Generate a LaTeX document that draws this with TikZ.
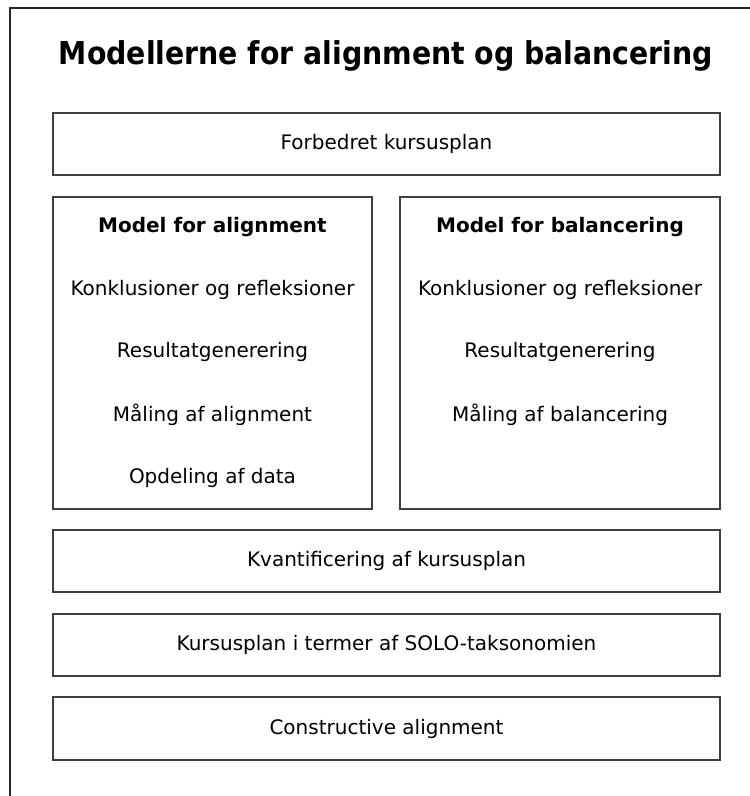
\documentclass[tikz,border=0pt]{standalone}
\usepackage{fontspec}
\setmainfont{DejaVu Sans}
\newfontfamily\titlefont{DejaVu Sans Condensed}
\begin{document}
\begin{tikzpicture}[x=1pt,y=-1pt,
  box/.style={draw=black!75,line width=1.2pt},
  lbl/.style={font=\fontsize{20}{24}\selectfont,anchor=center,inner sep=0pt},
  head/.style={font=\fontsize{20}{24}\selectfont\bfseries,anchor=center,inner sep=0pt}]
\useasboundingbox (0,0) rectangle (750,796);
\draw[line width=1.2pt,black!85] (10,800) -- (10,8) -- (760,8);
\node[font=\fontsize{31.5}{36}\selectfont\titlefont\bfseries,inner sep=0pt] (title) at (386,56) {Modellerne for alignment og balancering};
\draw[box] (53,113) rectangle (720,175) node[midway,lbl] (top) {Forbedret kursusplan};
\draw[box] (53,197) rectangle (372,509);
\draw[box] (400,197) rectangle (720,509);
\node[head] (la) at (212.5,227) {Model for alignment};
\node[lbl] (l1) at (212.5,290) {Konklusioner og refleksioner};
\node[lbl] (l2) at (212.5,352) {Resultatgenerering};
\node[lbl] (l3) at (212.5,415) {Måling af alignment};
\node[lbl] (l4) at (212.5,478) {Opdeling af data};
\node[head] (ra) at (560,227) {Model for balancering};
\node[lbl] (r1) at (560,290) {Konklusioner og refleksioner};
\node[lbl] (r2) at (560,352) {Resultatgenerering};
\node[lbl] (r3) at (560,415) {Måling af balancering};
\draw[box] (53,530) rectangle (720,592) node[midway,lbl] (kv) {Kvantificering af kursusplan};
\draw[box] (53,614) rectangle (720,676) node[midway,lbl] (ku) {Kursusplan i termer af SOLO-taksonomien};
\draw[box] (53,697) rectangle (720,760) node[midway,lbl] (co) {Constructive alignment};
\end{tikzpicture}
\end{document}
